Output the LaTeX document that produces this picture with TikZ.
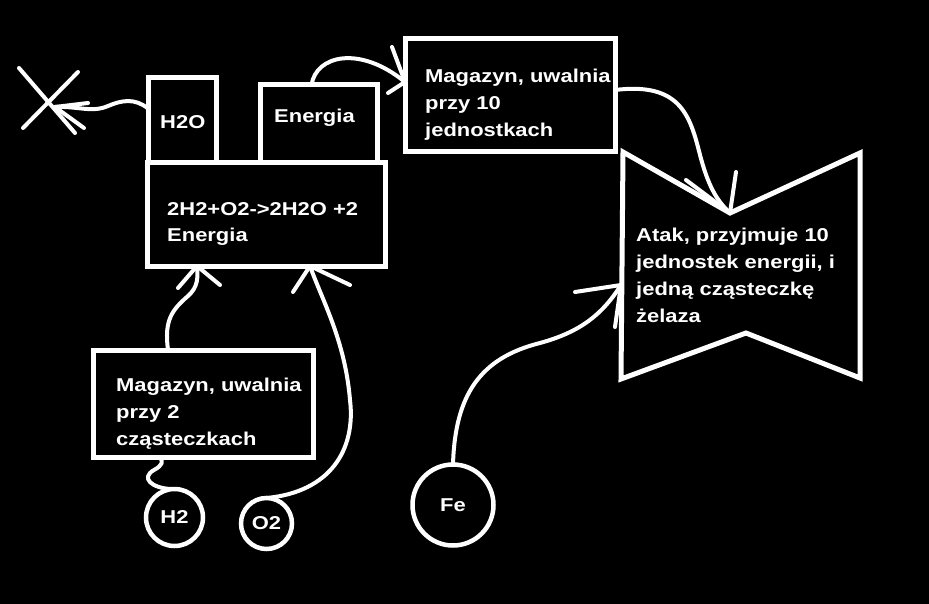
\documentclass[tikz,border=0pt]{standalone}
\usepackage{fontspec}
\newfontfamily\lblfont[FakeStretch=1.18]{Liberation Sans}
\begin{document}
\begin{tikzpicture}[x=1pt,y=-1pt,white,
  box/.style={draw=white, line width=5pt, rectangle, inner sep=0pt, outer sep=0pt, anchor=north west},
  txt/.style={text=white, font=\lblfont\bfseries\fontsize{18.6pt}{27pt}\selectfont, inner sep=0pt, anchor=base west},
  mol/.style={circle, draw=white, line width=4.5pt, inner sep=0pt, outer sep=0pt, text=white, font=\lblfont\bfseries\fontsize{18.6pt}{27pt}\selectfont},
  link/.style={draw=white, line width=4pt, line cap=round, line join=round}]
\fill[black] (0,0) rectangle (929,604);
\useasboundingbox (0,0) rectangle (929,604);
% boxes
\node[box, minimum width=238pt, minimum height=103pt] (big) at (147,163) {};
\node[box, minimum width=68pt, minimum height=85pt] (h2o) at (148,78) {};
\node[box, minimum width=117pt, minimum height=78pt] (energia) at (260,85) {};
\node[box, minimum width=210pt, minimum height=113pt] (mag10) at (405,39) {};
\node[box, minimum width=220pt, minimum height=107pt] (mag2) at (93,350) {};
\node[mol, minimum size=57pt] (h2) at (174.5,517.5) {H2};
\node[mol, minimum size=51pt] (o2) at (266.5,523.5) {O2};
\node[mol, minimum size=81pt] (fe) at (453,505) {Fe};
% bowtie
\coordinate (btl) at (623,152);
\coordinate (bn) at (730,213);
\coordinate (btr) at (860,153);
\coordinate (bbr) at (860,378);
\coordinate (bbn) at (746,333);
\coordinate (bbl) at (621,379);
\draw[line width=5pt, line join=miter] (btl) -- (bn) -- (btr) -- (bbr) -- (bbn) -- (bbl) -- cycle;
% texts
\node[txt] (th2o) at (160,129) {H2O};
\node[txt] (tenergia) at (274,123) {Energia};
\node[txt] (tbig) at (167,215) {\vtop{\hbox{2H2+O2->2H2O +2}\hbox{Energia}}};
\node[txt] (tmag10) at (425,83) {\vtop{\hbox{Magazyn, uwalnia}\hbox{przy 10}\hbox{jednostkach}}};
\node[txt] (tatak) at (636,242) {\vtop{\hbox{Atak, przyjmuje 10}\hbox{jednostek energii, i}\hbox{jedną cząsteczkę}\hbox{żelaza}}};
\node[txt] (tmag2) at (116,391) {\vtop{\hbox{Magazyn, uwalnia}\hbox{przy 2}\hbox{cząsteczkach}}};
% X mark
\coordinate (xtip) at (55,107);
\draw[link] (19,68) -- (75,133);
\draw[link] (78,72) -- (23,128);
% h2o -> X
\draw[link] ([yshift=12pt]h2o.west) .. controls (135,98) and (122,100) .. (108,106) .. controls (92,113) and (78,106) .. (xtip);
\draw[link] (xtip) -- (88,103);
\draw[link] (xtip) -- (84,128);
% energia -> mag10
\coordinate (m10in) at ([yshift=13.5pt]mag10.west);
\draw[link] ([xshift=-7pt]energia.north) .. controls (316,55) and (360,45) .. (m10in);
\draw[link] (m10in) -- (392,47);
\draw[link] (m10in) -- (388,93);
% mag10 -> bowtie
\draw[link] ([yshift=5.5pt]mag10.east) .. controls (680,82) and (690,115) .. (700,155) .. controls (708,185) and (716,200) .. (bn);
\draw[link] (bn) -- (686,180);
\draw[link] (bn) -- (736,172);
% fe -> bowtie
\coordinate (bl) at (621,285);
\draw[link] (fe.north) .. controls (455,395) and (480,358) .. (540,343) .. controls (580,332) and (602,315) .. (bl);
\draw[link] (bl) -- (575,292);
\draw[link] (bl) -- (615,327);
% mag2 -> big
\coordinate (bigin1) at ([xshift=-69pt]big.south);
\draw[link] ([xshift=-35pt]mag2.north) .. controls (164,320) and (172,310) .. (188,296) .. controls (198,287) and (198,278) .. (bigin1);
\draw[link] (bigin1) -- (178,288);
\draw[link] (bigin1) -- (220,285);
% o2 -> big
\coordinate (bigin2) at ([xshift=44pt]big.south);
\draw[link] (o2.north) .. controls (330,492) and (356,450) .. (350,400) .. controls (345,340) and (322,300) .. (bigin2);
\draw[link] (bigin2) -- (293,292);
\draw[link] (bigin2) -- (350,285);
% h2 -> mag2
\draw[link] ([xshift=-4pt]h2.north) .. controls (152,488) and (140,478) .. (154,470) .. controls (163,465) and (163,462) .. ([xshift=-43pt]mag2.south);
\end{tikzpicture}
\end{document}
